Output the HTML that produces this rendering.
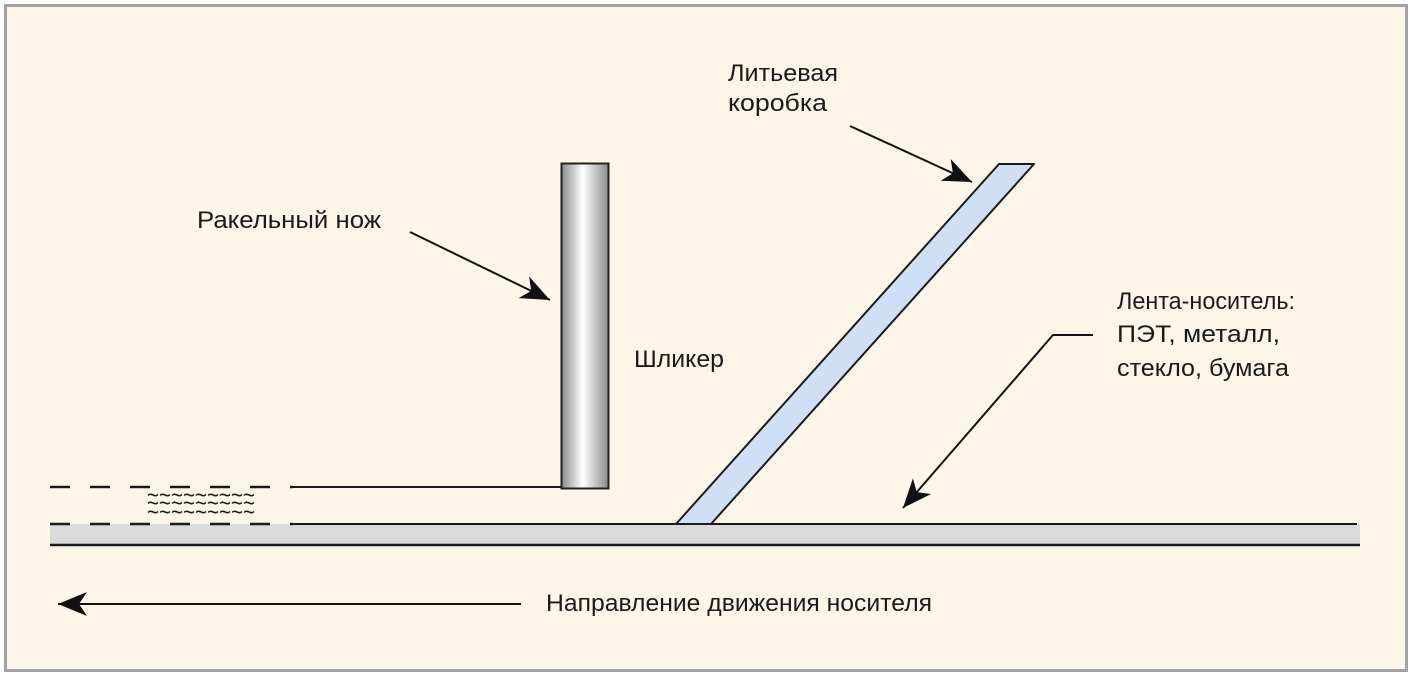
<!DOCTYPE html>
<html><head><meta charset="utf-8"><style>
html,body{margin:0;padding:0;background:#fff;}
svg{display:block;}
text{font-family:"Liberation Sans",sans-serif;font-size:24px;fill:#1a1a1a;}
</style></head><body>
<svg width="1412" height="678" viewBox="0 0 1412 678" xmlns="http://www.w3.org/2000/svg">
<defs>
<linearGradient id="g" x1="0" x2="1" y1="0" y2="0">
<stop offset="0" stop-color="#8a8a8a"/><stop offset="0.45" stop-color="#ffffff"/><stop offset="1" stop-color="#8a8a8a"/>
</linearGradient>
<marker id="a" markerUnits="userSpaceOnUse" markerWidth="34" markerHeight="28" refX="0" refY="0" viewBox="-31 -14 34 28" orient="auto">
<path d="M0,0 L-29,-12 L-21,0 L-29,12 Z" fill="#111"/>
</marker>
</defs>
<rect x="5.5" y="5.5" width="1401" height="665" fill="#fdf6e8" stroke="#a3a3a3" stroke-width="3"/>
<rect x="50" y="524" width="1310" height="21" fill="#dadada"/>
<line x1="50" y1="545" x2="1360" y2="545" stroke="#1a1a1a" stroke-width="2.5"/>
<line x1="50" y1="524" x2="293" y2="524" stroke="#1a1a1a" stroke-width="2.5" stroke-dasharray="20 20"/>
<line x1="293" y1="524" x2="1357" y2="524" stroke="#1a1a1a" stroke-width="2"/>
<line x1="50" y1="487" x2="293" y2="487" stroke="#1a1a1a" stroke-width="2.5" stroke-dasharray="20 20"/>
<line x1="293" y1="487" x2="562" y2="487" stroke="#1a1a1a" stroke-width="2"/>
<g style="font-size:20px">
<text x="147" y="503" textLength="108" lengthAdjust="spacingAndGlyphs">~~~~~~~~~</text>
<text x="147" y="511" textLength="108" lengthAdjust="spacingAndGlyphs">~~~~~~~~~</text>
<text x="147" y="520" textLength="108" lengthAdjust="spacingAndGlyphs">~~~~~~~~~</text>
</g>
<rect x="561.5" y="163.5" width="47" height="325" fill="url(#g)" stroke="#222" stroke-width="2"/>
<polygon points="999,164 1034,164 711,524 676,524" fill="#cfe0f6" stroke="#1a1a1a" stroke-width="2" stroke-linejoin="round"/>
<line x1="410" y1="232" x2="550" y2="300" stroke="#111" stroke-width="2" marker-end="url(#a)"/>
<line x1="850" y1="126" x2="972" y2="182" stroke="#111" stroke-width="2" marker-end="url(#a)"/>
<polyline points="1093,335 1053,335 903,508" fill="none" stroke="#111" stroke-width="2" marker-end="url(#a)"/>
<line x1="521" y1="604" x2="58" y2="604" stroke="#111" stroke-width="2" marker-end="url(#a)"/>
<text x="728" y="81" textLength="110" lengthAdjust="spacingAndGlyphs">Литьевая</text>
<text x="728" y="111" textLength="99" lengthAdjust="spacingAndGlyphs">коробка</text>
<text x="197" y="228" textLength="184" lengthAdjust="spacingAndGlyphs">Ракельный нож</text>
<text x="634" y="367" textLength="90" lengthAdjust="spacingAndGlyphs">Шликер</text>
<text x="1117" y="309" textLength="178" lengthAdjust="spacingAndGlyphs">Лента-носитель:</text>
<text x="1117" y="342" textLength="163" lengthAdjust="spacingAndGlyphs">ПЭТ, металл,</text>
<text x="1117" y="376" textLength="172" lengthAdjust="spacingAndGlyphs">стекло, бумага</text>
<text x="546" y="611" textLength="386" lengthAdjust="spacingAndGlyphs">Направление движения носителя</text>
</svg>
</body></html>
